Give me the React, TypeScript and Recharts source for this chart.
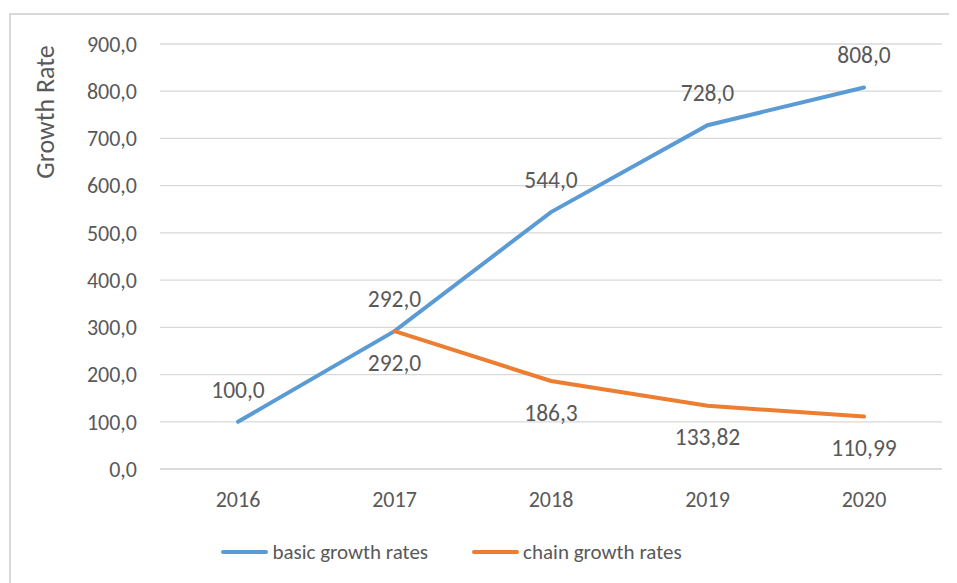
import { LineChart, Line, XAxis, YAxis, CartesianGrid, Legend, LabelList } from "recharts";

const years = ["2016", "2017", "2018", "2019", "2020"];
const basicRates = [100, 292, 544, 728, 808];
const chainRates = [null, 292, 186.3, 133.82, 110.99];
const yTicks = [0, 100, 200, 300, 400, 500, 600, 700, 800, 900];

const FONT = "Carlito, Calibri, Lato, sans-serif";
const FS = 22;
const TEXT = "#595959";
const BLUE = "#5B9BD5";
const ORANGE = "#ED7D31";
const GRID = "#D9D9D9";

const data = years.map((year, i) => ({
  year,
  basic: basicRates[i],
  chain: chainRates[i],
}));

// excel style: comma decimal, at least one decimal place
const fmt = (v: any) => {
  if (v === null || v === undefined) return "";
  const s = String(v);
  return (s.includes(".") ? s : s + ".0").replace(".", ",");
};

const legendItems = [
  { label: "basic growth rates", color: BLUE },
  { label: "chain growth rates", color: ORANGE },
];

function LegendContent() {
  return (
    <div style={{ display: "flex", justifyContent: "center", alignItems: "center", height: 30, gap: 44, paddingRight: 50 }}>
      {legendItems.map((it) => (
        <div key={it.label} style={{ display: "flex", alignItems: "center", gap: 4 }}>
          <div style={{ width: 47, height: 4, borderRadius: 2, background: it.color }} />
          <span style={{ fontFamily: FONT, fontSize: 21, color: TEXT }}>{it.label}</span>
        </div>
      ))}
    </div>
  );
}

function AxisTitle(props: any) {
  const { viewBox } = props;
  const x = viewBox.x + 34;
  const y = 97;
  return (
    <text x={x} y={y} transform={`rotate(-90 ${x} ${y})`} textAnchor="middle" dominantBaseline="central" fill={TEXT} fontFamily={FONT} fontSize={26}>
      Growth Rate
    </text>
  );
}

export default function App() {
  return (
    <div style={{ marginLeft: 1, marginTop: 5, borderLeft: `2px solid ${GRID}`, borderTop: `2px solid ${GRID}`, width: 945, height: 570 }}>
      <LineChart width={945} height={570} data={data} margin={{ top: 29, right: 14, left: 0, bottom: 18 }}>
        <CartesianGrid vertical={false} stroke={GRID} strokeWidth={1.3} />
        <XAxis
          dataKey="year"
          height={68}
          padding={{ left: 78, right: 78 }}
          axisLine={{ stroke: GRID, strokeWidth: 1.3 }}
          tickLine={false}
          tickSize={0}
          tickMargin={22}
          tick={{ fill: TEXT, fontFamily: FONT, fontSize: FS }}
        />
        <YAxis
          width={149}
          domain={[0, 900]}
          ticks={yTicks}
          axisLine={false}
          tickLine={false}
          tickSize={0}
          tickMargin={23}
          tickFormatter={(v: number) => v.toFixed(1).replace(".", ",")}
          tick={{ fill: TEXT, fontFamily: FONT, fontSize: FS }}
          label={<AxisTitle />}
        />
        <Legend verticalAlign="bottom" content={<LegendContent />} />
        <Line
          dataKey="basic"
          stroke={BLUE}
          strokeWidth={4}
          dot={false}
          isAnimationActive={false}
          strokeLinecap="round"
        >
          <LabelList dataKey="basic" position="top" offset={24} formatter={fmt} fill={TEXT} fontFamily={FONT} fontSize={23.5} />
        </Line>
        <Line
          dataKey="chain"
          stroke={ORANGE}
          strokeWidth={4}
          dot={false}
          isAnimationActive={false}
          strokeLinecap="round"
        >
          <LabelList dataKey="chain" position="bottom" offset={23} formatter={fmt} fill={TEXT} fontFamily={FONT} fontSize={23.5} />
        </Line>
      </LineChart>
    </div>
  );
}
